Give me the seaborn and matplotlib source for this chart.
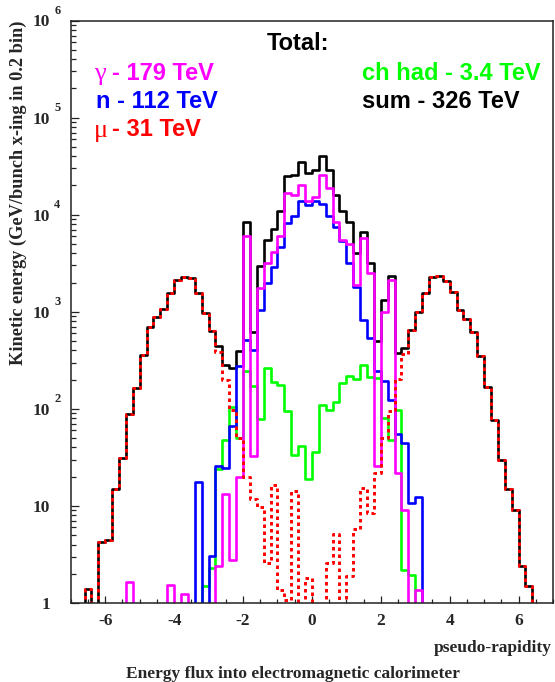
import numpy as np
import pandas as pd
import matplotlib
matplotlib.use("Agg")
import matplotlib.pyplot as plt
import matplotlib.transforms as mtransforms
from matplotlib.ticker import MultipleLocator, FixedLocator, LogLocator, NullFormatter
import seaborn as sns

# ---------------- data (energy per 0.2 bin, GeV) ----------------
eta_low = -7.0
bin_width = 0.2
n_bins = 70

sum_vals = [0, 0, 1.4, 0, 4.3, 4.5, 15, 31, 89, 163,
            360, 695, 880, 1070, 1550, 2100, 2300, 2240, 1550, 970,
            640, 440, 285, 263, 395, 8500, 620, 2940, 5500, 7200,
            11000, 25000, 25800, 34600, 26800, 28600, 40600, 29000, 16100, 11000,
            8500, 4030, 6700, 3170, 495, 1320, 2350, 375, 420, 650,
            1000, 1560, 2300, 2350, 2050, 1590, 1050, 840, 625, 347,
            167, 77, 30, 15, 9.1, 2.4, 1.5, 0, 0, 0]

gamma_vals = [0, 0, 0, 0, 0, 0, 0, 0, 1.66, 0,
              0, 0, 0, 0, 1.53, 0, 1.24, 0, 0, 0,
              0, 2.4, 13.2, 2.8, 19.8, 6000, 33, 1750, 3160, 4100,
              6050, 16700, 16100, 20400, 13700, 15200, 25800, 18800, 8500, 5500,
              5030, 1900, 5800, 2500, 26, 1000, 2140, 22, 9, 0,
              1.36, 0, 0, 0, 0, 0, 0, 0, 0, 0,
              0, 0, 0, 0, 0, 0, 0, 0, 0, 0]

neutron_vals = [0, 0, 0, 0, 0, 0, 0, 0, 0, 0,
                0, 0, 0, 0, 0, 0, 0, 0, 17.6, 0,
                3.05, 26, 24.5, 66, 275, 515, 405, 1050, 1990, 2870,
                4650, 8300, 9600, 13700, 12700, 13700, 12900, 9600, 7450, 5300,
                3170, 1820, 830, 535, 246, 195, 123, 55, 45, 10.8,
                12.3, 0, 0, 0, 0, 0, 0, 0, 0, 0,
                0, 0, 0, 0, 0, 0, 0, 0, 0, 0]

muon_vals = [0, 0, 1.4, 0, 4.3, 4.5, 15, 31, 89, 163,
             360, 695, 880, 1070, 1550, 2100, 2300, 2240, 1550, 970,
             640, 385, 200, 97, 50, 20, 11.7, 9.8, 2.6, 16.5,
             1.36, 1.07, 14.1, 0, 1.8, 0, 0, 2.6, 5.1, 0,
             1.9, 5.75, 15.2, 8.4, 21.7, 50, 96, 205, 370, 650,
             1000, 1560, 2300, 2350, 2050, 1590, 1050, 840, 625, 347,
             167, 77, 30, 15, 9.1, 2.4, 1.5, 0, 0, 0]

chhad_vals = [0, 0, 0, 0, 0, 0, 0, 0, 0, 0,
              0, 0, 0, 0, 0, 0, 0, 0, 0, 1.5,
              2.3, 24, 48, 104, 50, 243, 170, 78, 263, 191,
              176, 94, 33.6, 41.6, 19, 35.5, 110, 98, 117, 186,
              219, 203, 284, 215, 208, 80, 48, 97, 2.2, 1.94,
              0, 0, 0, 0, 0, 0, 0, 0, 0, 0,
              0, 0, 0, 0, 0, 0, 0, 0, 0, 0]

x_ticks = [-6, -4, -2, 0, 2, 4, 6]
x_ticklabels = ["-6", "-4", "-2", "0", "2", "4", "6"]
y_decades = [0, 1, 2, 3, 4, 5, 6]

legend_lines = [("γ", "- 179 TeV", "#ff00ff"),
                ("", "n - 112 TeV", "#0000ff"),
                ("μ", "- 31 TeV", "#ff0000")]
legend_right = [("ch had - 3.4 TeV", "#00ff00"),
                ("sum - 326 TeV", "#000000")]

# ---------------- figure ----------------
W, H = 555, 682
fig = plt.figure(figsize=(W / 100, H / 100), dpi=100)
sns.set_style("ticks")
plt.rcParams["font.family"] = ["Liberation Sans", "DejaVu Sans"]

ax_l, ax_r, ax_t, ax_b = 70.8, 553.0, 20.5, 603.0
ax = fig.add_axes([ax_l / W, 1 - ax_b / H, (ax_r - ax_l) / W, (ax_b - ax_t) / H])

edges = eta_low + bin_width * np.arange(n_bins + 1)


def stairs_frame(vals):
    v = np.asarray(vals, dtype=float)
    v = np.where(v > 0, v, 1e-2)
    return pd.DataFrame({"eta": edges, "E": np.append(v, v[-1])})


series = [
    (sum_vals, "#000000", "-", 1.9),
    (chhad_vals, "#00ff00", "-", 1.9),
    (neutron_vals, "#0000ff", "-", 1.9),
    (gamma_vals, "#ff00ff", "-", 1.9),
    (muon_vals, "#ff0000", (0, (1.2, 1.2)), 2.1),
]
for vals, col, ls, lw in series:
    df = stairs_frame(vals)
    sns.lineplot(data=df, x="eta", y="E", ax=ax, color=col, linewidth=lw,
                 linestyle=ls, drawstyle="steps-post", estimator=None,
                 sort=False)

ax.set_yscale("log")
ax.set_xlim(-7, 7)
ax.set_ylim(1, 1e6)
ax.set_xlabel("")
ax.set_ylabel("")

for sp in ax.spines.values():
    sp.set_visible(True)
    sp.set_linewidth(1.1)
    sp.set_color("#222222")

serif = ["Liberation Serif", "DejaVu Serif"]

ax.xaxis.set_major_locator(FixedLocator(x_ticks))
ax.xaxis.set_minor_locator(MultipleLocator(0.5))
ax.set_xticklabels(x_ticklabels, fontfamily=serif, fontweight="bold", fontsize=12.5)
ax.tick_params(axis="x", which="major", direction="in", length=5, width=0.9,
               pad=7, top=False, color="#222222")
ax.tick_params(axis="x", which="minor", direction="in", length=3, width=0.9,
               top=False, color="#222222")

ax.yaxis.set_major_locator(FixedLocator([10.0 ** k for k in y_decades]))
ax.yaxis.set_minor_locator(LogLocator(base=10, subs=np.arange(2, 10)))
ax.yaxis.set_minor_formatter(NullFormatter())
ylabels = ["1" if k == 0 else "10" for k in y_decades]
ax.set_yticklabels(ylabels, fontfamily=serif, fontweight="bold", fontsize=12.5)
ax.tick_params(axis="y", which="major", direction="in", length=6, width=0.9,
               pad=15, right=False, color="#222222")
ax.tick_params(axis="y", which="minor", direction="in", length=3.5, width=0.9,
               right=False, color="#222222")

trans = mtransforms.blended_transform_factory(ax.transAxes, ax.transData)
for k in y_decades:
    if k >= 2:
        ax.annotate(str(k), xy=(0, 10.0 ** k), xycoords=trans,
                    xytext=(-12.0, 7.0), textcoords="offset points",
                    ha="left", va="center", fontsize=9, fontweight="bold",
                    fontfamily=serif, annotation_clip=False)


def fx(X):
    return X / W


def fy(Y):
    return 1 - Y / H


# axis titles
fig.text(fx(18.5), fy(20.5), "Kinetic energy (GeV/bunch x-ing in 0.2 bin)",
         rotation=90, ha="center", va="top", fontsize=13.2, fontweight="bold",
         fontfamily=serif)
fig.text(fx(552), fy(651.5), "pseudo-rapidity", ha="right", va="baseline",
         fontsize=12.5, fontweight="bold", fontfamily=serif)
fig.text(fx(293), fy(678.5), "Energy flux into electromagnetic calorimeter",
         ha="center", va="baseline", fontsize=12.5, fontweight="bold",
         fontfamily=serif)

# in-plot legend texts
sans = ["Liberation Sans", "DejaVu Sans"]
fig.text(fx(298), fy(50), "Total:", ha="center", va="baseline", fontsize=17,
         fontweight="bold", fontfamily=sans, color="black")
baselines = [80, 108, 136.5]
for (greek, rest, col), yb in zip(legend_lines, baselines):
    if greek:
        fig.text(fx(94), fy(yb), greek, ha="left", va="baseline", fontsize=19,
                 fontfamily=serif, color=col)
        fig.text(fx(112), fy(yb), rest, ha="left", va="baseline", fontsize=17,
                 fontweight="bold", fontfamily=sans, color=col)
    else:
        fig.text(fx(95.5), fy(yb), rest, ha="left", va="baseline", fontsize=17,
                 fontweight="bold", fontfamily=sans, color=col)
for (txt, col), yb in zip(legend_right, baselines[:2]):
    fig.text(fx(362), fy(yb), txt, ha="left", va="baseline", fontsize=17,
             fontweight="bold", fontfamily=sans, color=col)

fig.savefig("out.png", dpi=100)
